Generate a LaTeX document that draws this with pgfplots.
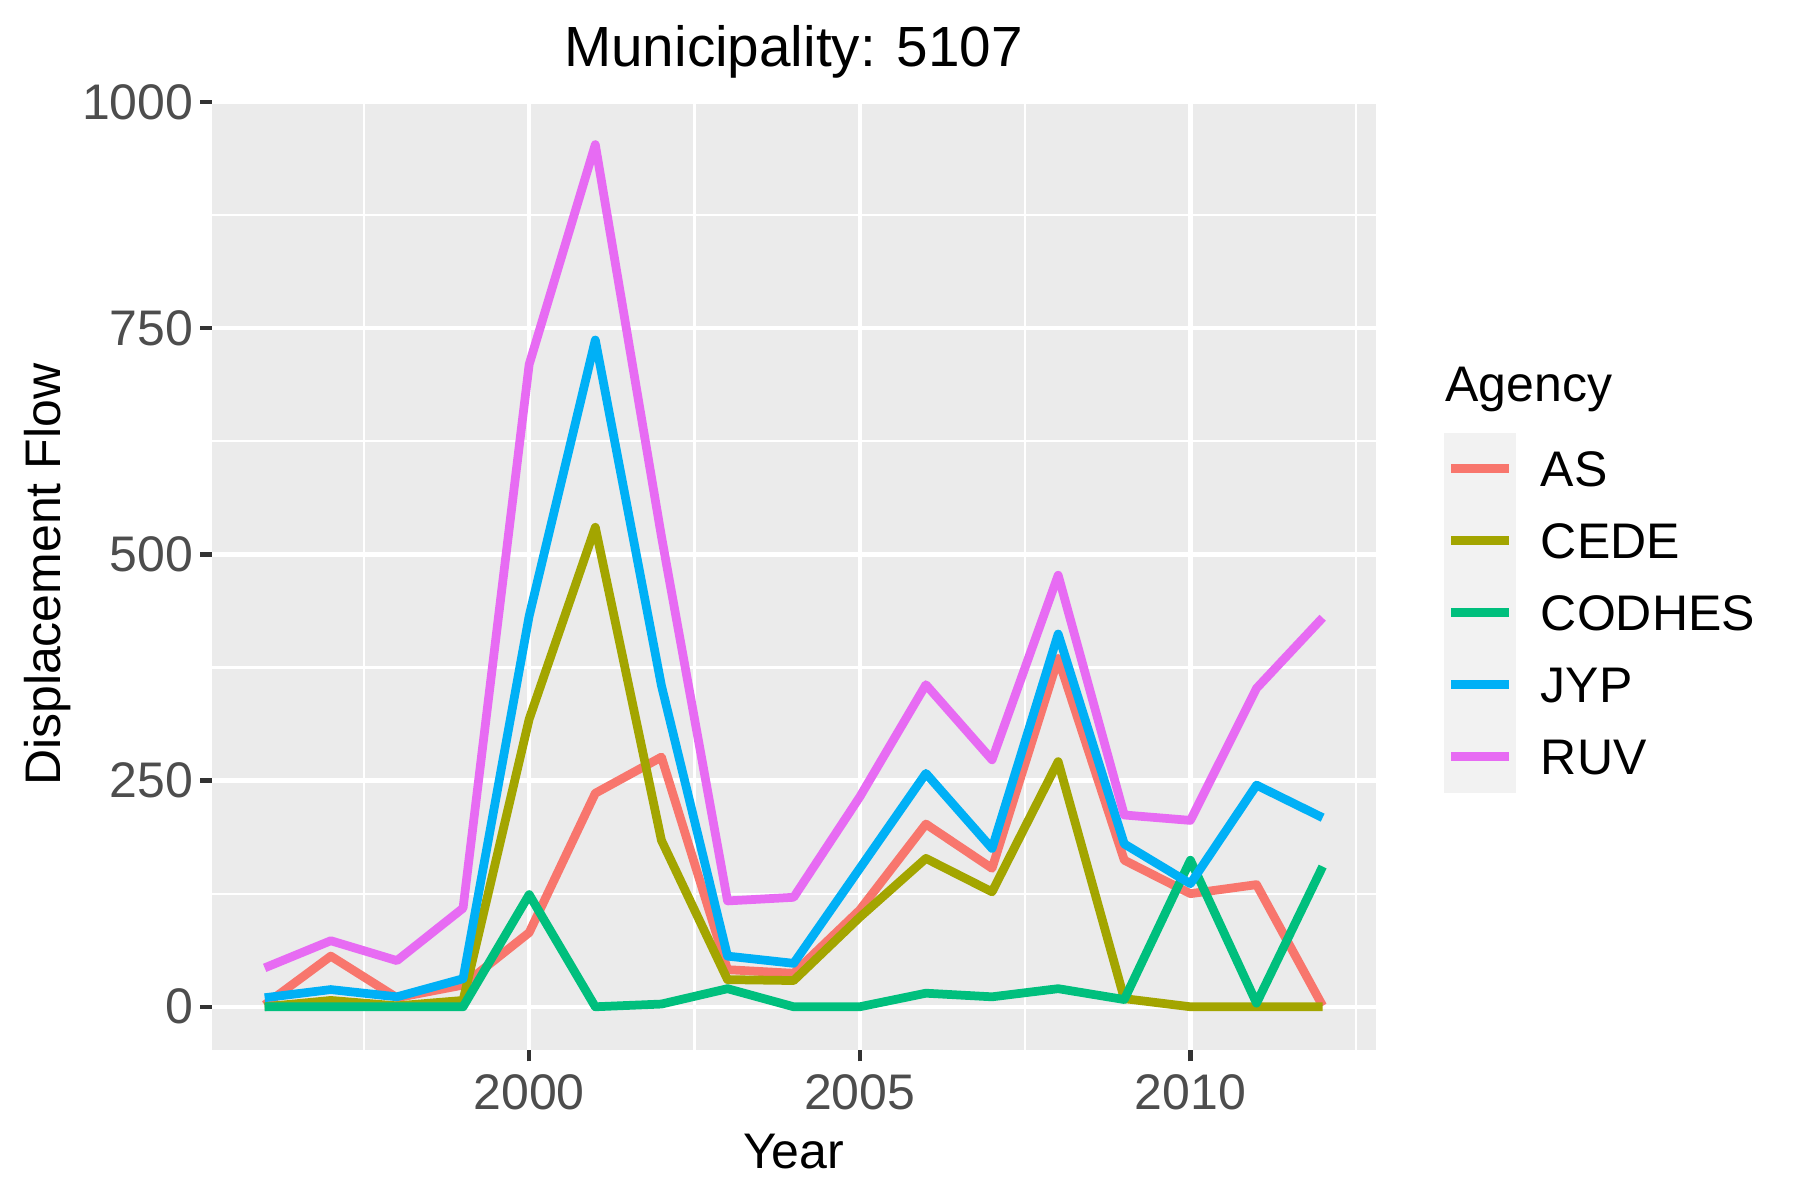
\documentclass[border=0pt]{standalone}
\usepackage{pgfplots}
\pgfplotsset{compat=1.18}
\usepackage{fontspec}
\setmainfont{Liberation Sans}
\definecolor{panelbg}{HTML}{EBEBEB}
\definecolor{legbg}{HTML}{F2F2F2}
\definecolor{tickgray}{HTML}{4D4D4D}
\definecolor{tickmark}{HTML}{333333}
\definecolor{cAS}{HTML}{F8766D}
\definecolor{cCEDE}{HTML}{A3A500}
\definecolor{cCODHES}{HTML}{00BF7D}
\definecolor{cJYP}{HTML}{00B0F6}
\definecolor{cRUV}{HTML}{E76BF3}
\pgfplotstableread{
year AS CEDE CODHES JYP RUV
1996 2 0 0 10 43
1997 56 7 0 19 73
1998 10 1 0 11 51
1999 24 7 0 31 109
2000 82 318 124 432 710
2001 236 530 0 737 953
2002 276 184 3 355 520
2003 41 30 20 56 117
2004 37 29 0 48 121
2005 107 99 0 153 232
2006 202 164 15 258 356
2007 153 127 11 175 273
2008 385 271 20 412 477
2009 162 9 8 180 212
2010 125 0 162 136 206
2011 135 0 4 245 352
2012 1 0 155 209 430
}\datatable
\begin{document}
\begin{tikzpicture}
\useasboundingbox (0,0) rectangle (432pt,288pt);
\begin{axis}[
  at={(50.83pt,36pt)}, anchor=south west,
  scale only axis, width=279.3pt, height=228.1pt,
  xmin=1995.2, xmax=2012.8, ymin=-47.75, ymax=1002.75,
  clip mode=individual,
  xtick={2000,2005,2010}, ytick={0,250,500,750,1000},
  minor xtick={1997.5,2002.5,2007.5,2012.5},
  minor ytick={125,375,625,875},
  grid=both,
  major grid style={white, line width=1.07pt},
  minor grid style={white, line width=0.53pt},
  minor tick length=0pt,
  major tick length=2.75pt,
  tick align=outside,
  tick pos=left,
  major tick style={tickmark, line width=1.07pt},
  axis line style={draw=none},
  axis background/.style={fill=panelbg},
  /pgf/number format/1000 sep={},
  /pgf/number format/assume math mode=true,
  tick label style={font=\fontsize{12}{14}\selectfont, text=tickgray, inner sep=0pt},
  yticklabel style={anchor=east, xshift=-1.5pt},
  xticklabel style={anchor=north, yshift=-2.85pt},
  xlabel={Year},
  ylabel={Displacement Flow},
  label style={font=\fontsize{12}{14}\selectfont},
  xlabel style={at={(axis description cs:0.5,0)}, anchor=base, yshift=-28.4pt},
  ylabel style={at={(axis description cs:0,0.5)}, anchor=base, yshift=36.4pt},
  every axis plot/.append style={line width=2.1pt, line join=round, no markers},
  legend cell align=left,
  legend style={at={(1.0588,0.6495)}, anchor=north west, draw=none, fill=none,
    inner sep=0pt, outer sep=0pt, row sep=0pt, column sep=6pt,
    font=\fontsize{12}{14}\selectfont,
    nodes={inner sep=0pt, outer sep=0pt, text height=8.6pt, text depth=0pt}},
  legend image code/.code={
    \begin{pgfinterruptboundingbox}
    \fill[legbg, draw=none] (0pt,-8.64pt) rectangle (17.28pt,8.64pt);
    \draw[#1] (1.7pt,0pt) -- (15.6pt,0pt);
    \end{pgfinterruptboundingbox}
    \path[draw=none, fill=none] (0pt,-8.64pt) rectangle (17.28pt,8.64pt);
  },
]
\addplot[cAS] table[x=year, y=AS] {\datatable};
\addlegendentry{AS}
\addplot[cCEDE] table[x=year, y=CEDE] {\datatable};
\addlegendentry{CEDE}
\addplot[cCODHES] table[x=year, y=CODHES] {\datatable};
\addlegendentry{CODHES}
\addplot[cJYP] table[x=year, y=JYP] {\datatable};
\addlegendentry{JYP}
\addplot[cRUV] table[x=year, y=RUV] {\datatable};
\addlegendentry{RUV}
\node[anchor=base, font=\fontsize{13.6}{16}\selectfont, inner sep=0pt] at (axis description cs:0.5,1) [yshift=7.9pt] {Municipality: 5107};
\node[anchor=base west, font=\fontsize{12}{14}\selectfont, inner sep=0pt] at (axis description cs:1.0592,0.6821) {Agency};
\end{axis}
\end{tikzpicture}
\end{document}
